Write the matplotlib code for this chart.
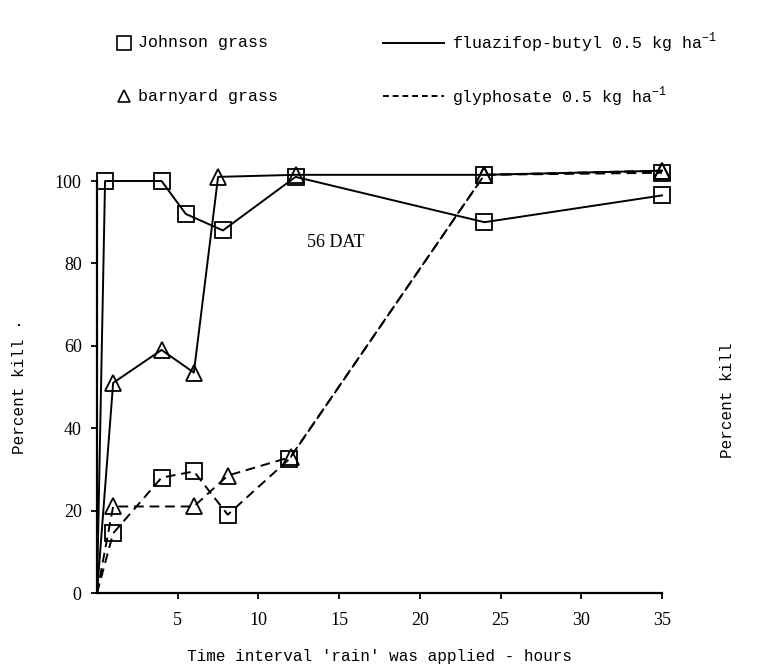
import matplotlib
matplotlib.use("Agg")
import matplotlib.pyplot as plt
from matplotlib.lines import Line2D

MONO = "Liberation Mono"
SERIF = "Liberation Serif"

plt.rcParams["mathtext.fontset"] = "custom"
plt.rcParams["mathtext.rm"] = MONO

# ── Datos (horas, % de control) ───────────────────────────────────────────────
flu_jg_x = [0, 0.5, 4, 5.5, 7.8, 12.3, 24, 35]
flu_jg_y = [0, 100, 100, 92, 88, 101, 90, 96.5]

flu_bg_x = [0, 1, 4, 6, 7.5, 12.3, 24, 35]
flu_bg_y = [0, 51, 59, 53.5, 101, 101.5, 101.5, 102.5]

gly_jg_x = [0, 1, 4, 6, 8.1, 11.9, 24, 35]
gly_jg_y = [0, 14.5, 28, 29.5, 19, 32.5, 101.5, 102]

gly_bg_x = [0, 1, 6, 8.1, 12, 24, 35]
gly_bg_y = [0, 21, 21, 28.5, 33, 101.5, 102.5]

X_TICKS = [5, 10, 15, 20, 25, 30, 35]
Y_TICKS = [0, 20, 40, 60, 80, 100]

fig = plt.figure(figsize=(7.6, 6.7), dpi=100)
ax = fig.add_axes([97/760, 77/670, 565/760, 412/670])

DASH = (0, (5, 3))
common = dict(color="black", lw=1.4, markersize=11, markerfacecolor="none",
              markeredgewidth=1.3, clip_on=False)

ax.plot(flu_jg_x, flu_jg_y, ls="-", marker="s", markevery=list(range(1, len(flu_jg_x))), **common)
ax.plot(flu_bg_x, flu_bg_y, ls="-", marker="^", markevery=list(range(1, len(flu_bg_x))), **common)
ax.plot(gly_jg_x, gly_jg_y, ls=DASH, marker="s", markevery=list(range(1, len(gly_jg_x))), **common)
ax.plot(gly_bg_x, gly_bg_y, ls=DASH, marker="^", markevery=list(range(1, len(gly_bg_x))), **common)

ax.set_xlim(0, 35)
ax.set_ylim(0, 100)
ax.set_xticks(X_TICKS)
ax.set_yticks(Y_TICKS)
ax.set_xticklabels([str(t) for t in X_TICKS], family=SERIF, fontsize=13)
ax.set_yticklabels([str(t) for t in Y_TICKS], family=SERIF, fontsize=13)
ax.tick_params(axis="both", length=4, width=1.3, direction="out", pad=10)
ax.tick_params(axis="y", pad=7)
for s in ["top", "right"]:
    ax.spines[s].set_visible(False)
ax.spines["left"].set_linewidth(1.6)
ax.spines["bottom"].set_linewidth(1.6)

ax.set_xlabel("Time interval 'rain' was applied - hours", family=MONO,
              fontsize=11.5, labelpad=14)
ax.set_ylabel("Percent kill ·", family=MONO, fontsize=11.5, labelpad=20)

ax.text(14.8, 85, "56 DAT", family=SERIF, fontsize=13, ha="center", va="center")

# etiqueta del panel vecino
fig.text(727/760, 1 - 400/670, "Percent kill", family=MONO, fontsize=11.5,
         rotation=90, ha="center", va="center")

# ── Leyenda manual ───────────────────────────────────────────────────────────
fig.add_artist(Line2D([124/760], [1 - 43/670], marker="s", markersize=10,
                      markerfacecolor="none", markeredgecolor="black",
                      markeredgewidth=1.2, transform=fig.transFigure))
fig.text(138/760, 1 - 43/670, "Johnson grass", family=MONO, fontsize=12, va="center")
fig.add_artist(Line2D([124/760], [1 - 96/670], marker="^", markersize=9,
                      markerfacecolor="none", markeredgecolor="black",
                      markeredgewidth=1.2, transform=fig.transFigure))
fig.text(138/760, 1 - 97/670, "barnyard grass", family=MONO, fontsize=12, va="center")

fig.add_artist(Line2D([383/760, 444/760], [1 - 43/670] * 2, color="black", lw=1.4,
                      transform=fig.transFigure))
fig.add_artist(Line2D([383/760, 444/760], [1 - 96/670] * 2, color="black", lw=1.4,
                      ls=(0, (3, 2)), transform=fig.transFigure))
fig.text(452/760, 1 - 43/670, r"fluazifop-butyl 0.5 kg ha$^{-1}$", family=MONO,
         fontsize=12, va="center")
fig.text(452/760, 1 - 97/670, r"glyphosate 0.5 kg ha$^{-1}$", family=MONO,
         fontsize=12, va="center")

fig.savefig("out.png", dpi=100, facecolor="white")
plt.close(fig)
